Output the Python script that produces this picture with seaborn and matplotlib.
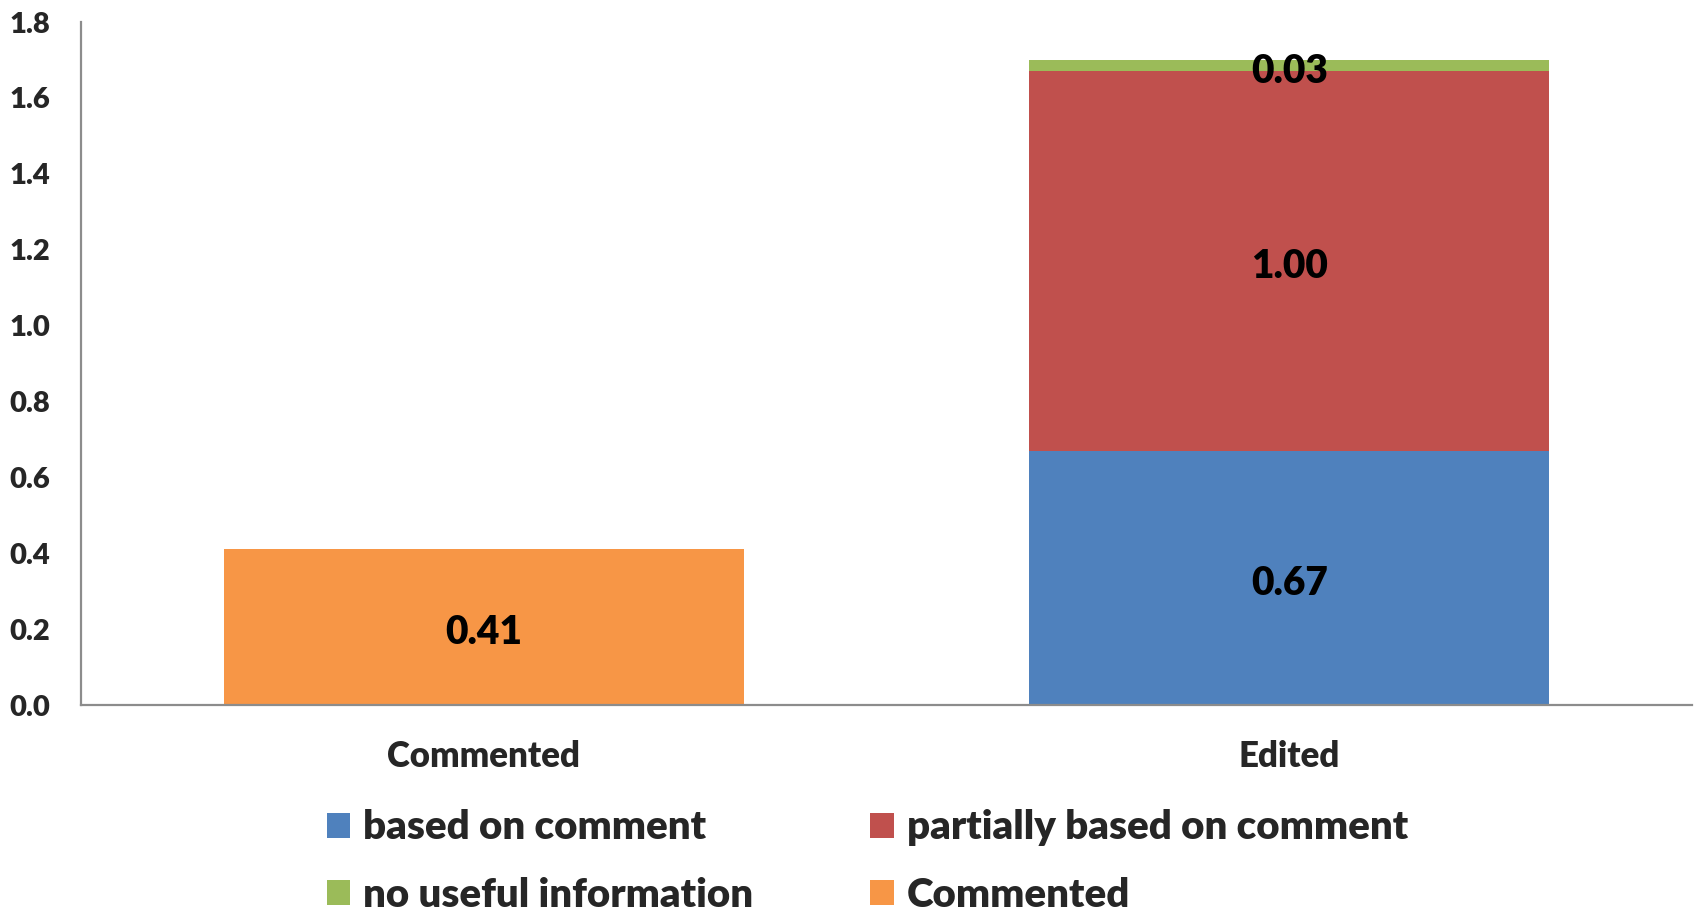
import numpy as np
import pandas as pd
import matplotlib
matplotlib.use("Agg")
import matplotlib.pyplot as plt
import seaborn as sns
from matplotlib.patches import Patch

# Data
categories = ["Commented", "Edited"]
based_on_comment = [0.00, 0.67]
partially_based = [0.00, 1.00]
no_useful_info = [0.00, 0.03]
commented = [0.41, 0.00]

series_names = ["based on comment", "partially based on comment",
                "no useful information", "Commented"]
colors = ["#4F81BD", "#C0504D", "#9BBB59", "#F79646"]
y_ticks = [0.0, 0.2, 0.4, 0.6, 0.8, 1.0, 1.2, 1.4, 1.6, 1.8]

sns.set_theme(style="white")
plt.rcParams["font.family"] = ["Lato", "DejaVu Sans"]
plt.rcParams["font.weight"] = "heavy"

W = "heavy"

fig = plt.figure(figsize=(16.96, 9.13), dpi=100)
ax = fig.add_axes([0.0478, 0.2278, 0.9498, 0.7481])

# Stacked bars: draw cumulative totals from the top segment down
stack = [np.array(based_on_comment), np.array(partially_based),
         np.array(no_useful_info)]
cum = np.cumsum(stack, axis=0)
bar_w = 0.646
for level in range(len(stack) - 1, -1, -1):
    df = pd.DataFrame({"cat": categories, "val": cum[level]})
    sns.barplot(data=df, x="cat", y="val", color=colors[level],
                saturation=1, width=bar_w, ax=ax, linewidth=0)
df_c = pd.DataFrame({"cat": categories, "val": commented})
sns.barplot(data=df_c, x="cat", y="val", color=colors[3],
            saturation=1, width=bar_w, ax=ax, linewidth=0)

# Segment value labels, centred in each segment
label_kw = dict(ha="center", va="center", fontsize=28, fontweight=W,
                color="black", textcoords="offset points", xytext=(0, -4))
for i in range(len(categories)):
    bottom = 0.0
    for seg in stack:
        v = seg[i]
        if v > 0:
            ax.annotate(f"{v:.2f}", (i, bottom + v / 2), **label_kw)
        bottom += v
    if commented[i] > 0:
        ax.annotate(f"{commented[i]:.2f}", (i, commented[i] / 2), **label_kw)

ax.set_xlim(-0.5, 1.5)
ax.set_ylim(0, 1.8)
ax.set_yticks(y_ticks)
ax.set_yticklabels([f"{t:.1f}" for t in y_ticks], fontsize=21,
                   fontweight=W)
ax.set_xticks(range(len(categories)))
ax.set_xticklabels(categories, fontsize=25, fontweight=W)
ax.tick_params(axis="both", length=0)
ax.tick_params(axis="y", pad=22)
ax.tick_params(axis="x", pad=25)
ax.set_xlabel("")
ax.set_ylabel("")

for side in ["top", "right"]:
    ax.spines[side].set_visible(False)
for side in ["left", "bottom"]:
    ax.spines[side].set_color("#8C8C8C")
    ax.spines[side].set_linewidth(1.6)

handles = [Patch(facecolor=c, edgecolor="none") for c in colors]
order = [0, 2, 1, 3]
fig.legend([handles[k] for k in order], [series_names[k] for k in order],
           ncol=2, loc="center", bbox_to_anchor=(0.5115, 0.0565),
           frameon=False, handlelength=0.58, handleheight=0.58,
           handletextpad=0.33, columnspacing=2.9, labelspacing=0.75,
           prop={"size": 29, "weight": W})

fig.savefig("out.png", dpi=100, facecolor="white")
